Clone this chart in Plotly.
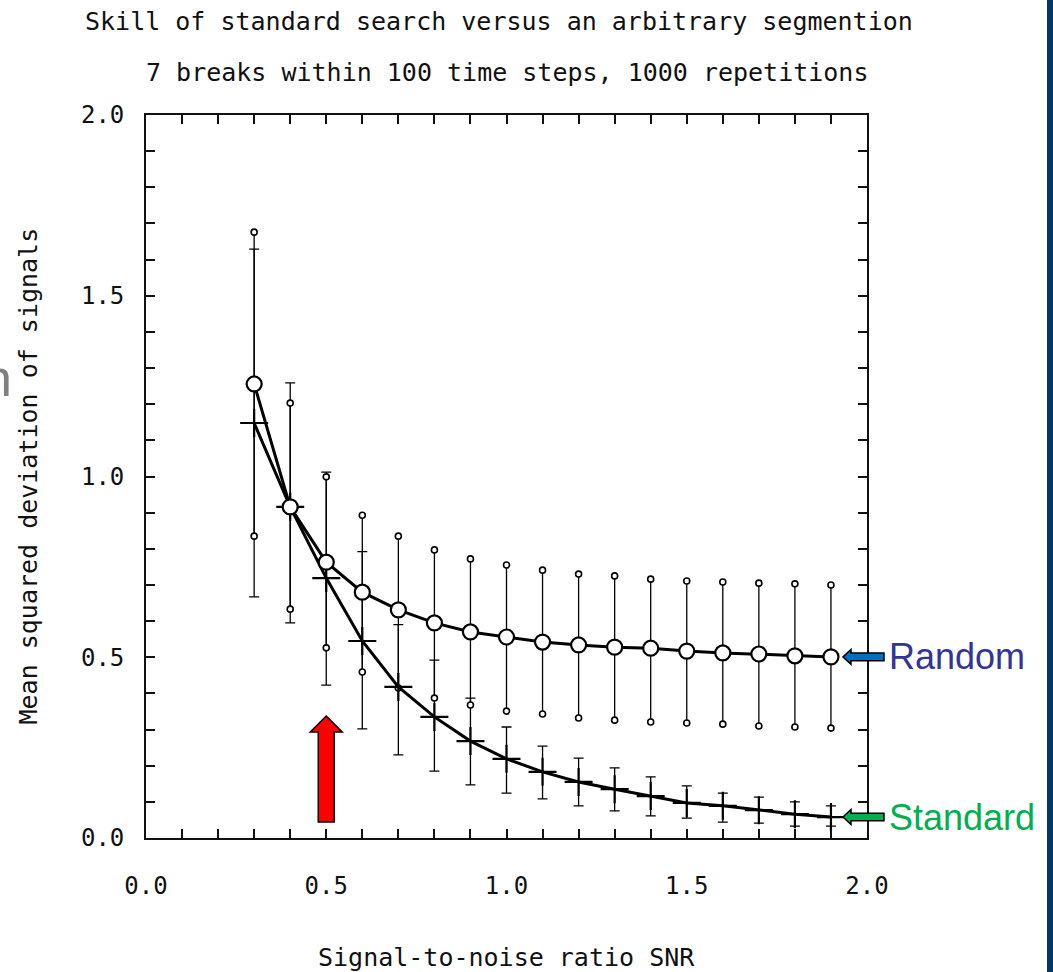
import plotly.graph_objects as go

# ---------------- data ----------------
snr = [0.3, 0.4, 0.5, 0.6, 0.7, 0.8, 0.9, 1.0, 1.1, 1.2, 1.3, 1.4, 1.5, 1.6, 1.7, 1.8, 1.9]

random_mean = [1.256, 0.916, 0.763, 0.680, 0.631, 0.595, 0.570, 0.556, 0.542, 0.534,
               0.528, 0.525, 0.517, 0.512, 0.509, 0.504, 0.501]
random_upper = [1.676, 1.203, 0.999, 0.893, 0.835, 0.797, 0.772, 0.755, 0.741, 0.730,
                0.725, 0.716, 0.711, 0.708, 0.705, 0.703, 0.700]
random_lower = [0.835, 0.633, 0.526, 0.459, 0.415, 0.387, 0.368, 0.351, 0.343, 0.332,
                0.326, 0.321, 0.318, 0.315, 0.310, 0.307, 0.304]

standard_mean = [1.148, 0.916, 0.719, 0.545, 0.418, 0.335, 0.268, 0.219, 0.183, 0.155,
                 0.135, 0.116, 0.097, 0.089, 0.077, 0.066, 0.058]
standard_upper = [1.629, 1.259, 1.012, 0.792, 0.590, 0.492, 0.387, 0.307, 0.254, 0.221,
                  0.194, 0.169, 0.144, 0.124, 0.113, 0.100, 0.089]
standard_lower = [0.667, 0.595, 0.423, 0.302, 0.230, 0.185, 0.147, 0.124, 0.108, 0.089,
                  0.075, 0.061, 0.055, 0.044, 0.041, 0.033, 0.033]

tick_vals = [round(i * 0.1, 1) for i in range(21)]
tick_text = ["0.0", "", "", "", "", "0.5", "", "", "", "", "1.0", "", "", "", "", "1.5",
             "", "", "", "", "2.0"]

title_text = "Skill of standard search versus an arbitrary segmention"
subtitle_text = "7 breaks within 100 time steps, 1000 repetitions"
x_title = "Signal-to-noise ratio SNR"
y_title = "Mean squared deviation of signals"
highlight_snr = 0.5

# ---------------- layout geometry ----------------
W, H = 1053, 972
ML, MR, MT, MB = 146, 186, 115, 134
PW, PH = W - ML - MR, H - MT - MB


def px_to_paper_x(px):
    return (px - ML) / PW


def px_to_paper_y(py):
    return (H - MB - py) / PH


MONO = "DejaVu Sans Mono"
ARIAL = "Liberation Sans, Arial"
INK = "#111111"

fig = go.Figure()

# error bars: standard (with caps)
fig.add_trace(go.Scatter(
    x=snr, y=standard_mean, mode="markers",
    marker=dict(size=1, color="rgba(0,0,0,0)"),
    error_y=dict(type="data", symmetric=False,
                 array=[u - m for u, m in zip(standard_upper, standard_mean)],
                 arrayminus=[m - l for m, l in zip(standard_mean, standard_lower)],
                 color="black", thickness=1.3, width=5),
    showlegend=False, hoverinfo="skip"))

# error bars: random (no caps, small circles at ends)
fig.add_trace(go.Scatter(
    x=snr, y=random_mean, mode="markers",
    marker=dict(size=1, color="rgba(0,0,0,0)"),
    error_y=dict(type="data", symmetric=False,
                 array=[u - m for u, m in zip(random_upper, random_mean)],
                 arrayminus=[m - l for m, l in zip(random_mean, random_lower)],
                 color="black", thickness=1.3, width=0),
    showlegend=False, hoverinfo="skip"))

fig.add_trace(go.Scatter(
    x=snr + snr, y=random_upper + random_lower, mode="markers",
    marker=dict(symbol="circle", size=6, color="white",
                line=dict(color="black", width=1.6)),
    showlegend=False, hoverinfo="skip"))

# standard line + crosses
fig.add_trace(go.Scatter(
    x=snr, y=standard_mean, mode="lines+markers", name="Standard",
    line=dict(color="black", width=3),
    marker=dict(symbol="cross-thin", size=20,
                line=dict(color="black", width=2.2)),
    showlegend=False))

# random line + open ovals
fig.add_trace(go.Scatter(
    x=snr, y=random_mean, mode="lines+markers", name="Random",
    line=dict(color="black", width=3),
    marker=dict(symbol="circle", size=15, color="white",
                line=dict(color="black", width=2.2)),
    showlegend=False))

axis_common = dict(
    range=[0, 2], tickmode="array", tickvals=tick_vals, ticktext=tick_text,
    ticks="inside", ticklen=9, tickwidth=1.5, tickcolor=INK,
    showline=True, linewidth=1.8, linecolor=INK, mirror="allticks",
    showgrid=False, zeroline=False,
    tickfont=dict(family=MONO, size=24, color=INK),
)

fig.update_layout(
    width=W, height=H, autosize=False,
    margin=dict(l=ML, r=MR, t=MT, b=MB, pad=0),
    paper_bgcolor="white", plot_bgcolor="white",
    xaxis=dict(**axis_common, ticklabelstandoff=25),
    yaxis=dict(**axis_common, ticklabelstandoff=15),
    showlegend=False,
)

annotations = [
    dict(text=title_text, x=0.49, y=px_to_paper_y(21), xref="paper", yref="paper",
         xanchor="center", yanchor="middle", showarrow=False,
         font=dict(family=MONO, size=25, color=INK)),
    dict(text=subtitle_text, x=0.5, y=px_to_paper_y(73), xref="paper", yref="paper",
         xanchor="center", yanchor="middle", showarrow=False,
         font=dict(family=MONO, size=25, color=INK)),
    dict(text=x_title, x=0.5, y=px_to_paper_y(957), xref="paper", yref="paper",
         xanchor="center", yanchor="middle", showarrow=False,
         font=dict(family=MONO, size=25, color=INK)),
    dict(text=y_title, x=px_to_paper_x(28), y=0.5, xref="paper", yref="paper",
         xanchor="center", yanchor="middle", textangle=-90, showarrow=False,
         font=dict(family=MONO, size=25, color=INK)),
    dict(text="Random", x=px_to_paper_x(887), y=random_mean[-1], xref="paper", yref="y",
         xanchor="left", yanchor="middle", showarrow=False,
         font=dict(family=ARIAL, size=36, color="#333399")),
    dict(text="Standard", x=px_to_paper_x(887), y=standard_mean[-1], xref="paper", yref="y",
         xanchor="left", yanchor="middle", showarrow=False,
         font=dict(family=ARIAL, size=36, color="#00B050")),
    dict(text="n", x=px_to_paper_x(14), y=px_to_paper_y(378), xref="paper", yref="paper",
         xanchor="right", yanchor="middle", showarrow=False,
         font=dict(family=ARIAL, size=52, color="#808080")),
]
fig.update_layout(annotations=annotations)


def left_arrow_path(tip_px, tail_px, head_len_px, y, head_half, shaft_half):
    x0 = px_to_paper_x(tip_px)
    xb = px_to_paper_x(tip_px + head_len_px)
    x1 = px_to_paper_x(tail_px)
    return (f"M {x0},{y} L {xb},{y + head_half} L {xb},{y + shaft_half} "
            f"L {x1},{y + shaft_half} L {x1},{y - shaft_half} L {xb},{y - shaft_half} "
            f"L {xb},{y - head_half} Z")


yunit = 2.0 / PH  # data units per pixel
xunit = 2.0 / PW

shapes = []
for yv, col in [(random_mean[-1], "#0070C0"), (standard_mean[-1], "#00B050")]:
    shapes.append(dict(type="path", xref="paper", yref="y",
                       path=left_arrow_path(843, 884, 8, yv, 7.5 * yunit, 3.8 * yunit),
                       fillcolor=col, line=dict(color="black", width=1.5), layer="above"))

# red up arrow at SNR = 0.5
xc = highlight_snr
y_tail, y_base, y_tip = 16 * yunit, 106 * yunit, 122 * yunit
sh, hh = 8 * xunit, 16 * xunit
red_path = (f"M {xc},{y_tip} L {xc + hh},{y_base} L {xc + sh},{y_base} L {xc + sh},{y_tail} "
            f"L {xc - sh},{y_tail} L {xc - sh},{y_base} L {xc - hh},{y_base} Z")
shapes.append(dict(type="path", xref="x", yref="y", path=red_path,
                   fillcolor="#FF0000", line=dict(color="black", width=1.5), layer="above"))

# dark slide border strip on the right
shapes.append(dict(type="rect", xref="paper", yref="paper",
                   x0=px_to_paper_x(1047), x1=px_to_paper_x(1060),
                   y0=px_to_paper_y(980), y1=px_to_paper_y(-10),
                   fillcolor="#00386B", line=dict(width=0), layer="above"))

fig.update_layout(shapes=shapes)

fig.write_html("out.html")
